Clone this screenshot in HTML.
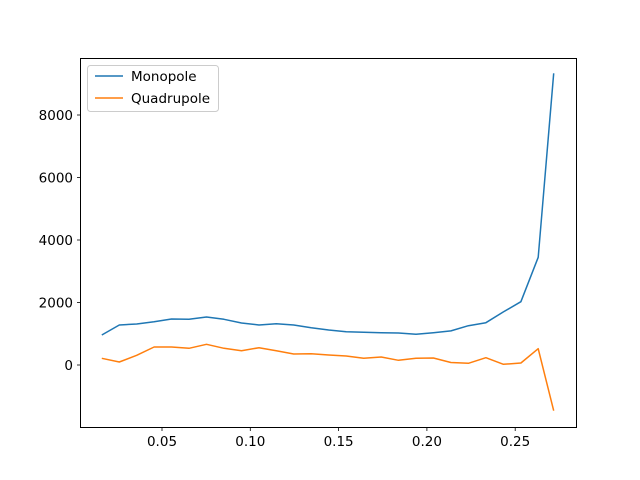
<!DOCTYPE html>
<html><head><meta charset="utf-8"><style>body{margin:0;background:#fff}svg{display:block;font-family:"DejaVu Sans","Liberation Sans",sans-serif}</style></head>
<body>
<svg id="chart" width="640" height="480">
<rect x="0" y="0" width="640" height="480" fill="#fff"/>
<g id="plot"></g>
<rect x="80.5" y="58.5" width="496" height="369" fill="none" stroke="#000" stroke-width="1"/>
<g id="ticks"></g>
<g>
<rect x="87.5" y="65.5" width="131" height="46" rx="3" fill="#fff" fill-opacity="0.8" stroke="#ccc"/>
<line x1="95" y1="76" x2="123" y2="76" stroke="#1f77b4" stroke-width="1.5"/>
<text x="131" y="81" font-size="13.5">Monopole</text>
<line x1="95" y1="98" x2="123" y2="98" stroke="#ff7f0e" stroke-width="1.5"/>
<text x="131" y="103" font-size="13.5">Quadrupole</text>
</g>
</svg>
<script>
const xValues = [0.0159,0.0258,0.0357,0.0455,0.0554,0.0653,0.0752,0.0851,0.0950,0.1049,0.1147,0.1246,0.1345,0.1444,0.1543,0.1642,0.1741,0.1839,0.1938,0.2037,0.2136,0.2235,0.2334,0.2433,0.2532,0.2630,0.2718];
const monopole = [960,1280,1312,1386,1472,1462,1536,1462,1344,1280,1322,1280,1194,1120,1066,1046,1034,1024,982,1034,1090,1258,1354,1700,2026,3446,9334];
const quadrupole = [214,96,310,576,576,534,662,534,458,554,458,352,362,320,288,214,256,150,214,224,80,54,234,22,64,522,-1462];
const xTicks = [0.05,0.10,0.15,0.20,0.25];
const xTickLabels = ["0.05","0.10","0.15","0.20","0.25"];
const yTicks = [0,2000,4000,6000,8000];
const yTickLabels = ["0","2000","4000","6000","8000"];
const NS="http://www.w3.org/2000/svg";
function xs(v){return 162+(v-0.05)*1766;}
function ys(v){return 365-v*0.03125;}
const plot=document.getElementById('plot'), ticks=document.getElementById('ticks');
function mk(tag,attrs,parent){const e=document.createElementNS(NS,tag);for(const k in attrs)e.setAttribute(k,attrs[k]);parent.appendChild(e);return e;}
function series(vals,color,name){
  const p=mk('polyline',{points:vals.map((v,i)=>xs(xValues[i]).toFixed(1)+','+ys(v).toFixed(1)).join(' '),fill:'none',stroke:color,'stroke-width':1.5,'stroke-linejoin':'round'},plot);
  
  
}
series(monopole,'#1f77b4','monopole-line');
series(quadrupole,'#ff7f0e','quadrupole-line');
xTicks.forEach((t,i)=>{
  const x=xs(t);
  const l=mk('line',{x1:x,y1:427.5,x2:x,y2:431,stroke:'#000','stroke-width':0.8},ticks);
  
  
  const tx=mk('text',{x:x,y:446,'font-size':13.5,'text-anchor':'middle'},ticks);
  tx.textContent=xTickLabels[i];
  
  
});
yTicks.forEach((t,i)=>{
  const y=ys(t);
  const l=mk('line',{x1:77,y1:y,x2:80.5,y2:y,stroke:'#000','stroke-width':0.8},ticks);
  
  
  const tx=mk('text',{x:73,y:y+5,'font-size':13.5,'text-anchor':'end'},ticks);
  tx.textContent=yTickLabels[i];
  
  
});
</script>
</body></html>
